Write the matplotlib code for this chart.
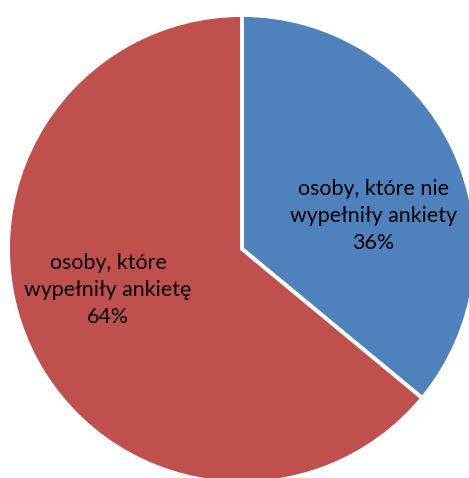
import matplotlib
matplotlib.use('Agg')
import matplotlib.pyplot as plt

labels = ['osoby, które nie\nwypełniły ankiety', 'osoby, które\nwypełniły ankietę']
shares = [36, 64]
colors = ['#4F81BD', '#C0504D']

plt.rcParams['font.family'] = ['Lato', 'DejaVu Sans']

fig = plt.figure(figsize=(4.69, 4.78), dpi=100)
ax = fig.add_axes([0, 0, 1, 1])

cx, cy, r = 242, 229, 234
wedges, _ = ax.pie(shares, colors=colors, startangle=90, counterclock=False,
                   center=(cx, cy), radius=r,
                   wedgeprops=dict(edgecolor='white', linewidth=2.8))

label_pos = [(373, 478 - 216), (108, 478 - 290)]
for lab, val, (x, y) in zip(labels, shares, label_pos):
    ax.text(x, y, f'{lab}\n{val}%', ha='center', va='center',
            fontsize=15.4, color='black', linespacing=1.42)

ax.set_xlim(0, 469)
ax.set_ylim(0, 478)
ax.set_aspect('equal')
ax.axis('off')

plt.savefig('out.png', dpi=100)
